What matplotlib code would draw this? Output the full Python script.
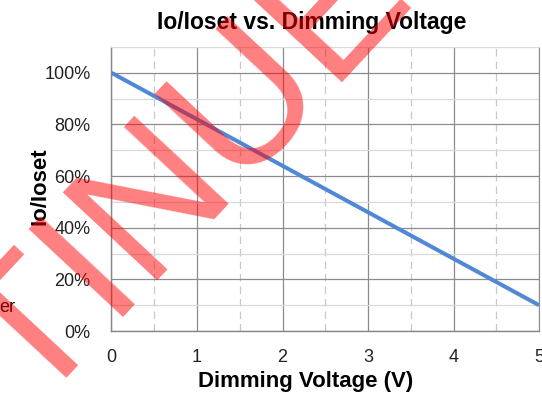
import matplotlib
matplotlib.use("Agg")
import matplotlib.pyplot as plt
from matplotlib.ticker import MultipleLocator, FuncFormatter

plt.rcParams["font.family"] = ["Liberation Sans", "DejaVu Sans"]

# data
voltage = [0, 1, 2, 3, 4, 5]
io_pct = [100, 82, 64, 46, 28, 10]
x_ticks = [0, 1, 2, 3, 4, 5]
y_ticks = [0, 20, 40, 60, 80, 100]

title = "Io/Ioset vs. Dimming Voltage"
xlabel = "Dimming Voltage (V)"
ylabel = "Io/Ioset"
watermark = "DISCONTINUED"

fig = plt.figure(figsize=(5.42, 4.0), dpi=100)
ax = fig.add_axes([0.2057, 0.1725, 0.7888, 0.71])

ax.plot(voltage, io_pct, color="#5088D6", linewidth=2.9, solid_capstyle="butt", zorder=3)

ax.set_xlim(0, 5)
ax.set_ylim(0, 110)
ax.set_xticks(x_ticks)
ax.set_yticks(y_ticks)
ax.xaxis.set_minor_locator(MultipleLocator(0.5))
ax.yaxis.set_minor_locator(MultipleLocator(10))
ax.yaxis.set_major_formatter(FuncFormatter(lambda v, p: f"{v:.0f}%"))

ax.grid(which="major", axis="both", color="#8C8C8C", linewidth=0.9, zorder=1)
ax.grid(which="minor", axis="y", color="#D9D9D9", linewidth=0.9, zorder=0)
ax.grid(which="minor", axis="x", color="#C8C8C8", linewidth=0.9, linestyle=(0, (6, 4)), zorder=0)
ax.set_axisbelow(True)

ax.tick_params(which="both", length=0)
ax.tick_params(axis="x", labelsize=13, pad=13, colors="#222222")
ax.tick_params(axis="y", labelsize=13, pad=15, colors="#222222")

for side in ["left", "bottom"]:
    ax.spines[side].set_color("#868686")
    ax.spines[side].set_linewidth(1.0)
ax.spines["right"].set_color("#8C8C8C")
ax.spines["top"].set_color("#D9D9D9")

ax.set_xlabel(xlabel, fontsize=16, fontweight="bold")
ax.xaxis.set_label_coords(0.455, -0.142)
fig.text(40 / 542, 1 - 186 / 400, ylabel, rotation=90, fontsize=16, fontweight="bold",
         ha="center", va="center")
fig.text(312 / 542, 1 - 22 / 400, title, fontsize=16.5, fontweight="bold",
         ha="center", va="center")

fig.text(-0.002, 1 - 307 / 400, "er", fontsize=13, ha="left", va="center", color="black")

# red watermark over everything
fig.text(19 / 542, 1 - 413 / 400, watermark, rotation=47, rotation_mode="anchor",
         ha="center", va="baseline", fontsize=135,
         color="red", alpha=0.5, zorder=10)

plt.savefig("out.png", dpi=100)
